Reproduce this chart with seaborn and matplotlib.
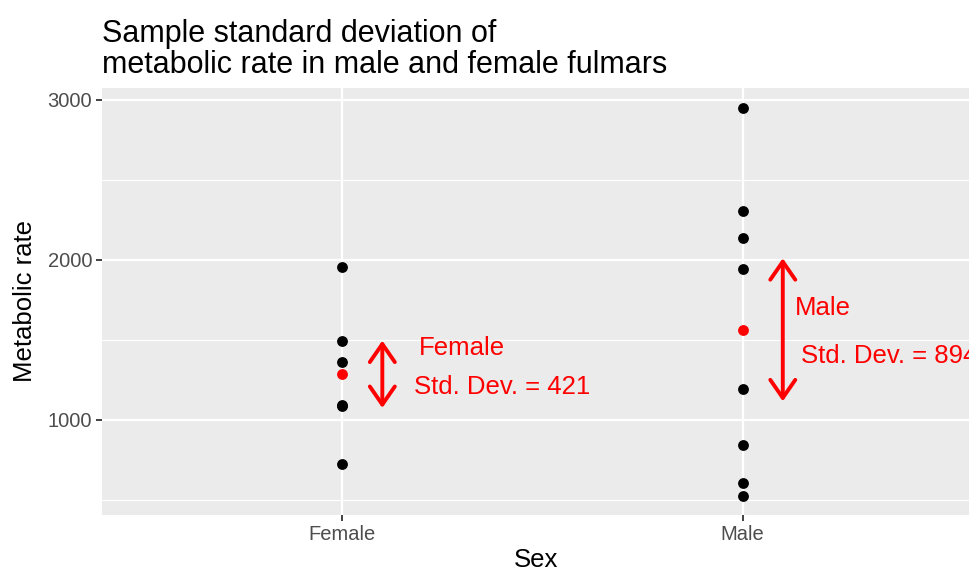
import numpy as np
import pandas as pd
import seaborn as sns
import matplotlib.pyplot as plt

# metabolic rate of fulmars
female_rate = [727.7, 1086.5, 1091.0, 1361.3, 1490.5, 1956.1]
male_rate = [525.8, 605.7, 843.3, 1195.5, 1945.6, 2135.6, 2308.7, 2950.0]
sexes = ['Female', 'Male']

df = pd.DataFrame({
    'Sex': ['Female'] * len(female_rate) + ['Male'] * len(male_rate),
    'rate': female_rate + male_rate,
})
stats = df.groupby('Sex')['rate'].agg(['mean', 'std']).reindex(sexes).reset_index()

sns.set_theme(style='darkgrid', rc={
    'axes.facecolor': '#EBEBEB',
    'grid.color': 'white',
    'axes.edgecolor': '#EBEBEB',
    'text.color': 'black',
    'axes.labelcolor': 'black',
})
plt.rcParams['font.family'] = ['Liberation Sans', 'DejaVu Sans']

fig = plt.figure(figsize=(9.7, 5.73), dpi=100)
ax = fig.add_axes([102 / 970, 58 / 573, 1 - 102 / 970, 427 / 573])

sns.stripplot(x='Sex', y='rate', data=df, order=sexes, jitter=False,
              color='black', size=7.8, linewidth=0, ax=ax, zorder=3)
sns.stripplot(x='Sex', y='mean', data=stats, order=sexes, jitter=False,
              color='red', size=7.8, linewidth=0, ax=ax, zorder=4)

# arrows spanning one standard deviation, centred on the mean
arrow_x = [0.1, 1.1]
for i, row in stats.iterrows():
    lo = row['mean'] - row['std'] / 2
    hi = row['mean'] + row['std'] / 2
    ax.annotate('', xy=(arrow_x[i], lo), xytext=(arrow_x[i], hi),
                arrowprops=dict(arrowstyle='<->,head_length=0.65,head_width=0.45',
                                mutation_scale=20, lw=2.8, color='red',
                                shrinkA=0, shrinkB=0), zorder=5)

label_pos = [(0.3, 1450), (1.2, 1700)]
sd_pos = [(0.4, 1206), (1.365, 1400)]
for i, row in stats.iterrows():
    ax.text(label_pos[i][0], label_pos[i][1], row['Sex'], color='red',
            fontsize=18.5, ha='center', va='center')
    ax.text(sd_pos[i][0], sd_pos[i][1], 'Std. Dev. = %d' % round(row['std']),
            color='red', fontsize=18.5, ha='center', va='center', clip_on=False)

ax.set_xlim(-0.6, 1.5675)
ax.set_ylim(406, 3075)
ax.set_yticks([1000, 2000, 3000])
ax.set_yticks([500, 1500, 2500], minor=True)
ax.grid(which='major', color='white', linewidth=1.6)
ax.grid(which='minor', axis='y', color='white', linewidth=0.8)
ax.tick_params(axis='both', which='major', labelsize=14.5, labelcolor='#4D4D4D',
               length=4, width=1.3, color='#333333', pad=3, left=True, bottom=True)
ax.tick_params(which='minor', length=0)
for s in ax.spines.values():
    s.set_visible(False)

ax.set_xlabel('Sex', fontsize=18.5, labelpad=3)
ax.set_ylabel('Metabolic rate', fontsize=18.5, labelpad=8)
ax.set_title('Sample standard deviation of\nmetabolic rate in male and female fulmars',
             loc='left', fontsize=22, pad=11, linespacing=1.05)

plt.savefig('out.png', dpi=100)
